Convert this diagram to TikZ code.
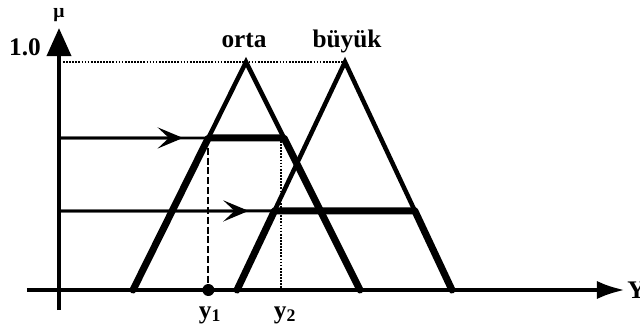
\documentclass[tikz,border=0pt]{standalone}
\usepackage{fontspec}
\setmainfont{Liberation Serif}
\usetikzlibrary{arrows.meta,calc}
\tikzset{
  axis/.style={line width=3pt},
  mf/.style={line width=3.2pt, line join=miter},
  cut/.style={line width=5pt, line join=round, line cap=round},
  probe/.style={line width=2pt},
  guide/.style={line width=1.3pt, dash pattern=on 5pt off 2pt},
  fine/.style={line width=1.2pt, dash pattern=on 1.2pt off 1pt},
  lbl/.style={font=\fontsize{18}{20}\selectfont\bfseries, inner sep=0pt},
  barb/.style={-{Stealth[length=18pt,width=15pt,inset=8pt]}}
}

\begin{document}
\begin{tikzpicture}[x=0.025cm, y=0.025cm]
  \useasboundingbox (-59,-41) rectangle (581,290);
  % axes
  \coordinate (O) at (0,0);
  \coordinate (ybot) at (0,-20);
  \coordinate (ytop) at (0,262);
  \coordinate (xleft) at (-32,0);
  \coordinate (xright) at (566,0);
  \draw[axis, -{Triangle[length=20pt,width=17pt]}] (ybot) -- (ytop);
  \draw[axis, -{Latex[length=20pt,width=13pt]}] (xleft) -- (xright);
  \node[font=\fontsize{14}{15}\selectfont\bfseries, inner sep=0pt, anchor=base] (mu) at (0,273) {μ};
  \node[lbl, anchor=base] (one) at (-34,235) {1.0};
  \node[lbl, anchor=west] (Y) at (568,0) {Y};

  % membership functions
  \coordinate (oL) at (74,0);
  \coordinate (oP) at (187,228);
  \coordinate (oR) at (301,0);
  \coordinate (bL) at (178,0);
  \coordinate (bP) at (286,228);
  \coordinate (bR) at (393,0);
  \draw[fine] (4,228) -- (bP);
  \draw[mf] (oL) -- (oP) -- (oR);
  \draw[mf] (bL) -- (bP) -- (bR);
  \node[lbl, anchor=base] (orta) at (185,243) {orta};
  \node[lbl, anchor=base] (buyuk) at (288,243) {büyük};

  % clipped sets
  \coordinate (c1L) at ($(oL)!0.667!(oP)$);
  \coordinate (c1R) at ($(oR)!0.667!(oP)$);
  \coordinate (c2L) at ($(bL)!0.347!(bP)$);
  \coordinate (c2R) at ($(bR)!0.347!(bP)$);
  \draw[cut] (oL) -- (c1L) -- (c1R) -- (oR);
  \draw[cut] (bL) -- (c2L) -- (c2R) -- (bR);

  % inputs
  \coordinate (m1) at (0,152);
  \coordinate (m2) at (0,79);
  \draw[probe] (m1) -- (c1L);
  \draw[probe, barb] (m1) -- ($(m1)!0.83!(c1L)$);
  \draw[probe] (m2) -- (c2L);
  \draw[probe, barb] (m2) -- ($(m2)!0.88!(c2L)$);

  % outputs
  \coordinate (y1) at (c1L |- O);
  \coordinate (y2top) at ($(c1R)+(-3,0)$);
  \coordinate (y2) at (y2top |- O);
  \draw[guide] (c1L) -- (y1);
  \fill (y1) circle (6);
  \draw[fine] (y2top) -- (y2);
  \node[lbl, anchor=base] (y1lbl) at (151,-28) {y\textsubscript{1}};
  \node[lbl, anchor=base] (y2lbl) at (226,-28) {y\textsubscript{2}};
\end{tikzpicture}
\end{document}
